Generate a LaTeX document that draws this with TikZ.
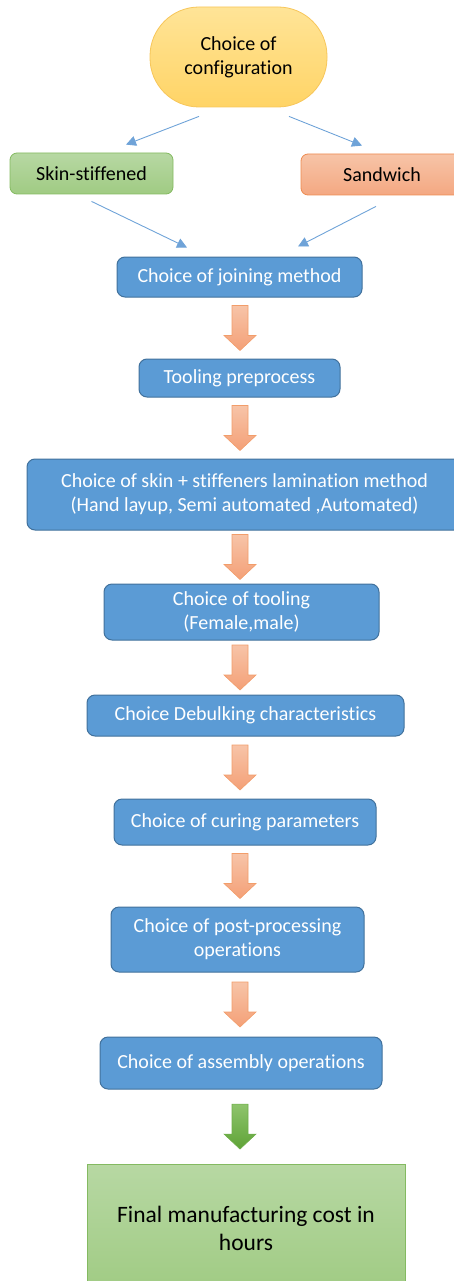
\documentclass[tikz,border=0pt]{standalone}
\usepackage{fontspec}
\setmainfont{Carlito}[Ligatures=NoCommon]
\usetikzlibrary{arrows.meta,calc}
\definecolor{boxblue}{HTML}{5B9BD5}
\definecolor{boxline}{HTML}{41719C}
\definecolor{thinblue}{HTML}{6FA3D8}
\definecolor{yeltop}{HTML}{FFE497}
\definecolor{yelbot}{HTML}{FFD466}
\definecolor{yelline}{HTML}{F7C65A}
\definecolor{grtop}{HTML}{B7D8A3}
\definecolor{grbot}{HTML}{A0CB83}
\definecolor{grline}{HTML}{84BA61}
\definecolor{ortop}{HTML}{F7C4A7}
\definecolor{orbot}{HTML}{F4A882}
\definecolor{orline}{HTML}{ED8B50}
\definecolor{arrtop}{HTML}{F7C4A8}
\definecolor{arrbot}{HTML}{F4A077}
\definecolor{arrline}{HTML}{F29D6A}
\definecolor{garrtop}{HTML}{8EC46C}
\definecolor{garrbot}{HTML}{5FA337}
\definecolor{garrline}{HTML}{6EAE49}
\newcommand{\fatarrow}[3][orarrow]{%
  \path[#1] let \p1=(#2.south), \p2=(#3.north), \p3=(axis) in
    (\x3-8pt,{(\y1+\y2)/2+22.5pt}) -- ++(16pt,0pt) -- ++(0pt,-30pt)
    -- ++(8pt,0pt) -- ++(-16pt,-15pt) -- ++(-16pt,15pt) -- ++(8pt,0pt) -- cycle;}

\begin{document}
\begin{tikzpicture}[x=1pt, y=-1pt,
  stepbox/.style={rectangle, rounded corners=8pt, draw=boxline, line width=1pt,
    fill=boxblue, text=white, align=center, inner sep=0pt,
    font=\fontsize{20}{24}\selectfont},
  pickbox/.style={rectangle, rounded corners=7pt, line width=0.8pt,
    align=center, inner sep=0pt, font=\fontsize{20}{24}\selectfont},
  branch/.style={-{Triangle[length=10pt,width=10pt]}, draw=thinblue, line width=0.9pt},
  orarrow/.style={top color=arrtop, bottom color=arrbot, draw=arrline, line width=0.6pt},
  grarrow/.style={top color=garrtop, bottom color=garrbot, draw=garrline, line width=0.6pt}]

\useasboundingbox (0,0) rectangle (454,1281);
\clip (0,0) rectangle (454,1281);
\coordinate (axis) at (240,0);

   \node [pickbox, rounded corners=49pt, minimum width=177pt, minimum height=100pt,
          top color=yeltop, bottom color=yelbot, draw=yelline] at (238.5,57) (config) {Choice of\\configuration};
%
      \node [pickbox, minimum width=163pt, minimum height=41pt,
             top color=grtop, bottom color=grbot, draw=grline] at (91.5,173.5) (skin) {Skin-stiffened};
      \node [pickbox, minimum width=162pt, minimum height=41pt,
             top color=ortop, bottom color=orbot, draw=orline] at (382,174.5) (sand) {Sandwich};
%
        \node [stepbox, minimum width=245pt, minimum height=40pt] at (239.5,277) (join) {Choice of joining method};
        \node [stepbox, minimum width=201pt, minimum height=38pt] at (239.5,378) (prep) {Tooling preprocess};
        \node [stepbox, minimum width=435pt, minimum height=71pt] at (244.5,494.5) (lam) {Choice of skin + stiffeners lamination method\\(Hand layup, Semi automated ,Automated)};
        \node [stepbox, minimum width=275pt, minimum height=56pt] at (241.5,612) (tool) {Choice of tooling\\(Female,male)};
        \node [stepbox, minimum width=317pt, minimum height=41pt] at (245.5,715.5) (debulk) {Choice Debulking characteristics};
        \node [stepbox, minimum width=262pt, minimum height=46pt] at (245,822) (cure) {Choice of curing parameters};
        \node [stepbox, minimum width=253pt, minimum height=65pt] at (237.5,939.5) (post) {Choice of post-processing\\operations};
        \node [stepbox, minimum width=282pt, minimum height=52pt] at (241,1063) (assem) {Choice of assembly operations};
%
   \node [rectangle, line width=0.8pt, top color=grtop, bottom color=grbot, draw=grline,
          minimum width=318pt, minimum height=128pt, align=center,
          font=\fontsize{23.5}{28}\selectfont] at (246,1228) (final) {Final manufacturing cost in\\hours};
%
%
\draw [branch] ([xshift=-39.5pt,yshift=-9pt]config.south) -- ([xshift=34.5pt,yshift=8pt]skin.north);
\draw [branch] ([xshift=50.5pt,yshift=-9pt]config.south) -- ([xshift=-20pt,yshift=8pt]sand.north);
\draw [branch] ([yshift=-7pt]skin.south) -- ([xshift=-52.5pt,yshift=9pt]join.north);
\draw [branch] ([xshift=-6pt,yshift=-11pt]sand.south) -- ([xshift=58.5pt,yshift=10pt]join.north);
%
\fatarrow{join}{prep}
\fatarrow{prep}{lam}
\fatarrow{lam}{tool}
\fatarrow{tool}{debulk}
\fatarrow{debulk}{cure}
\fatarrow{cure}{post}
\fatarrow{post}{assem}
\fatarrow[grarrow]{assem}{final}

\end{tikzpicture}
\end{document}
